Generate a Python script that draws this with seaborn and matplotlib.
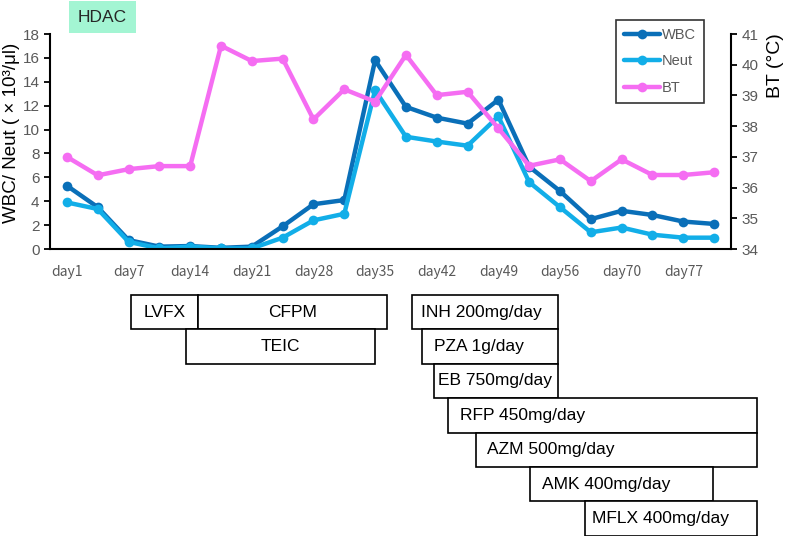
import numpy as np
import pandas as pd
import seaborn as sns
import matplotlib.pyplot as plt
import matplotlib.transforms as mtransforms
from matplotlib.patches import Rectangle

# data
days = ['day1', '', 'day7', '', 'day14', '', 'day21', '', 'day28', '', 'day35', '',
        'day42', '', 'day49', '', 'day56', '', 'day70', '', 'day77', '']
wbc = [5.3, 3.5, 0.75, 0.2, 0.25, 0.1, 0.2, 1.9, 3.75, 4.1, 15.8, 11.9,
       11.0, 10.5, 12.5, 6.9, 4.85, 2.5, 3.2, 2.85, 2.3, 2.1]
neut = [3.9, 3.35, 0.6, 0.05, 0.2, 0.05, 0.05, 0.95, 2.4, 2.95, 13.3, 9.4,
        9.0, 8.65, 11.1, 5.6, 3.5, 1.4, 1.8, 1.2, 0.95, 0.95]
bt = [37.0, 36.4, 36.6, 36.7, 36.7, 40.62, 40.12, 40.2, 38.22, 39.2, 38.8, 40.32,
      39.01, 39.12, 37.93, 36.71, 36.92, 36.21, 36.92, 36.41, 36.41, 36.5]

# drug regimens (start / end in day-index units) and their row below the chart
drugs = ['LVFX', 'CFPM', 'TEIC', 'INH 200mg/day', 'PZA 1g/day', 'EB 750mg/day',
         'RFP 450mg/day', 'AZM 500mg/day', 'AMK 400mg/day', 'MFLX 400mg/day']
drug_start = [2.07, 4.26, 3.87, 11.21, 11.53, 11.92, 12.35, 13.26, 15.04, 16.81]
drug_end = [4.26, 10.39, 10.0, 15.94, 15.94, 15.94, 22.39, 22.39, 20.98, 22.39]
drug_row = [0, 0, 1, 0, 1, 2, 3, 4, 5, 6]

df = pd.DataFrame({'idx': np.arange(len(days)), 'WBC': wbc, 'Neut': neut, 'BT': bt})

sns.set_style('white')
plt.rcParams['font.family'] = ['Liberation Sans', 'DejaVu Sans']

fig = plt.figure(figsize=(7.87, 5.36), dpi=100)
ax = fig.add_axes([0.0635, 0.5354, 0.8654, 0.4011])
ax2 = ax.twinx()

c_wbc, c_neut, c_bt = '#0A6FB8', '#12AEE8', '#F56DF2'
kw = dict(marker='o', linewidth=3.2, markersize=7, markeredgewidth=0)
sns.lineplot(data=df, x='idx', y='WBC', ax=ax, color=c_wbc, label='WBC', legend=False, **kw)
sns.lineplot(data=df, x='idx', y='Neut', ax=ax, color=c_neut, label='Neut', legend=False, **kw)
sns.lineplot(data=df, x='idx', y='BT', ax=ax2, color=c_bt, label='BT', legend=False, **kw)

ax.set_xlim(-0.55, 21.55)
ax.set_ylim(0, 18)
ax.set_yticks(range(0, 19, 2))
ax2.set_ylim(34, 41)
ax2.set_yticks(range(34, 42))
ax.set_xticks(df['idx'][::2])
ax.set_xticklabels(days[::2])

ax.set_xlabel('')
ax.set_ylabel('WBC/ Neut ( × 10³/μl)', fontsize=13.5, color='black')
ax.yaxis.set_label_coords(-0.044, 0.54)
ax2.set_ylabel('BT (°C)', fontsize=14, color='black')
ax2.yaxis.set_label_coords(1.053, 0.855)

gray = '#595959'
for a in (ax, ax2):
    for s in a.spines.values():
        s.set_visible(False)
    a.tick_params(axis='y', colors=gray, labelsize=11, length=4, width=1.3, direction='out')
    a.tick_params(axis='y', which='both', color='black')
ax.spines['left'].set_visible(True)
ax.spines['bottom'].set_visible(True)
ax2.spines['right'].set_visible(True)
for s in (ax.spines['left'], ax.spines['bottom'], ax2.spines['right']):
    s.set_color('black')
    s.set_linewidth(1.5)
ax.tick_params(axis='y', left=True)
ax2.tick_params(axis='y', right=True)
ax.tick_params(axis='x', bottom=False, labelsize=10, labelcolor=gray, pad=8)
for lab in ax.get_xticklabels():
    lab.set_family(['Noto Sans CJK KR', 'DejaVu Sans'])

# legend
h1, l1 = ax.get_legend_handles_labels()
h2, l2 = ax2.get_legend_handles_labels()
leg = ax2.legend(h1 + h2, l1 + l2, loc='upper right', bbox_to_anchor=(0.960, 1.065),
                 frameon=True, fancybox=False, edgecolor='black', fontsize=10.5,
                 handlelength=2.5, handletextpad=0.1, borderpad=0.55, labelspacing=0.85,
                 borderaxespad=0)
leg.get_frame().set_linewidth(1.2)
for t in leg.get_texts():
    t.set_color(gray)

# HDAC tag
fig.text(102.5 / 787, 1 - 17 / 536, 'HDAC', ha='center', va='center', fontsize=12.5,
         bbox=dict(boxstyle='square,pad=0.5', facecolor='#A3F5D3', edgecolor='none'))

# drug bars below the chart
trans = mtransforms.blended_transform_factory(ax.transData, fig.transFigure)
row_top = 295 / 536
row_h = 34.4 / 536
text_pad = [0, 0, 0, 9, 12, 4, 12, 11, 12, 7]  # px from left edge of box
for name, x0, x1, r, pad in zip(drugs, drug_start, drug_end, drug_row, text_pad):
    y_top = 1 - row_top - r * row_h
    rect = Rectangle((x0, y_top - row_h), x1 - x0, row_h, transform=trans,
                     facecolor='white', edgecolor='black', linewidth=1.2, clip_on=False)
    fig.add_artist(rect)
    if name in ('LVFX', 'CFPM', 'TEIC'):
        fig.text((x0 + x1) / 2, y_top - row_h / 2, name, transform=trans, ha='center',
                 va='center', fontsize=12.5, color='black')
    else:
        t = trans + mtransforms.ScaledTranslation(pad / 100, 0, fig.dpi_scale_trans)
        fig.text(x0, y_top - row_h / 2, name, transform=t, ha='left', va='center',
                 fontsize=12.5, color='black')

fig.savefig('out.png', dpi=100)
